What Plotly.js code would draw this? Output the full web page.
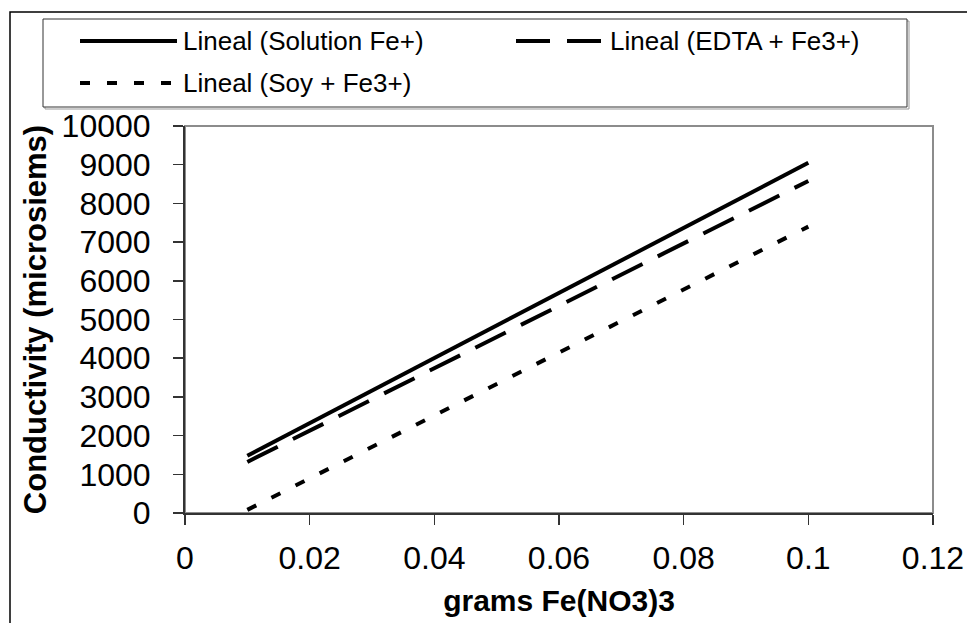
<!DOCTYPE html>
<html>
<head>
<meta charset="utf-8">
<script src="https://cdn.plot.ly/plotly-3.0.1.min.js"></script>
<style>
html,body{margin:0;padding:0;background:#fff;}
#chart{width:967px;height:623px;}
</style>
</head>
<body>
<div id="chart"></div>
<script>
// Data
const seriesNames = ["Lineal (Solution Fe+)", "Lineal (EDTA + Fe3+)", "Lineal (Soy + Fe3+)"];
const xGrams = [0.01, 0.1];
const solutionFe = [1480, 9050];
const edtaFe3 = [1320, 8580];
const soyFe3 = [80, 7400];
const xTickVals = [0, 0.02, 0.04, 0.06, 0.08, 0.1, 0.12];
const yTickVals = [0, 1000, 2000, 3000, 4000, 5000, 6000, 7000, 8000, 9000, 10000];

const FONT = "Liberation Sans, Arial, sans-serif";
const W = 967, H = 623;
const L = 185, R = 933, T = 126, B = 513;
const px = v => (v - L) / (R - L);
const py = v => (B - v) / (B - T);

const styles = [
  {color: "#000", width: 4, dash: "solid"},
  {color: "#000", width: 4, dash: "34px,17px"},
  {color: "#000", width: 4, dash: "10px,17px"}
];
const values = [solutionFe, edtaFe3, soyFe3];

const traces = values.map((v, i) => ({
  x: xGrams, y: v, type: "scatter", mode: "lines",
  name: seriesNames[i], line: styles[i], showlegend: false, hoverinfo: "skip"
}));

// custom legend (samples + labels), drawn in paper coordinates
const legendItems = [
  {x0: 80, x1: 177, y: 41, tx: 181},
  {x0: 516, x1: 604, y: 41, tx: 608},
  {x0: 80, x1: 177, y: 83, tx: 181}
];
const shapes = [
  // outer frame
  {type: "rect", xref: "paper", yref: "paper", x0: px(10), x1: px(975), y0: py(640), y1: py(12),
   line: {color: "#000", width: 1.5}, fillcolor: "rgba(0,0,0,0)", layer: "below"},
  // legend box shadow + box
  {type: "rect", xref: "paper", yref: "paper", x0: px(45), x1: px(909), y0: py(109), y1: py(21),
   line: {color: "#999", width: 1}, fillcolor: "rgba(0,0,0,0)", layer: "below"},
  {type: "rect", xref: "paper", yref: "paper", x0: px(43), x1: px(907), y0: py(107), y1: py(19),
   line: {color: "#333", width: 1}, fillcolor: "#fff", layer: "below"},
  // plot area border (gray top/right)
  {type: "rect", xref: "paper", yref: "paper", x0: 0, x1: 1, y0: 0, y1: 1,
   line: {color: "#8c8c8c", width: 2}, fillcolor: "rgba(0,0,0,0)", layer: "below"}
];
const annotations = [];
legendItems.forEach((it, i) => {
  shapes.push({type: "line", xref: "paper", yref: "paper", x0: px(it.x0), x1: px(it.x1),
    y0: py(it.y), y1: py(it.y), line: styles[i]});
  annotations.push({xref: "paper", yref: "paper", x: px(it.tx), y: py(it.y), xanchor: "left", yanchor: "middle",
    text: seriesNames[i], showarrow: false, font: {family: FONT, size: 26, color: "#000"}});
});

const layout = {
  width: W, height: H,
  margin: {l: L, r: W - R, t: T, b: H - B, pad: 0},
  paper_bgcolor: "#fff", plot_bgcolor: "#fff",
  showlegend: false,
  font: {family: FONT, color: "#000"},
  xaxis: {
    range: [0, 0.12], tickvals: xTickVals, ticks: "outside", ticklen: 10, tickwidth: 1.5, tickcolor: "#333",
    showline: true, linecolor: "#333", linewidth: 2, showgrid: false, zeroline: false,
    tickfont: {family: FONT, size: 32, color: "#000"}, ticklabelstandoff: 6,
    title: {text: "grams Fe(NO3)3", font: {family: FONT, size: 30, color: "#000", weight: "bold"}, standoff: 15}
  },
  yaxis: {
    range: [0, 10000], tickvals: yTickVals, tickformat: "d", ticks: "outside", ticklen: 10, tickwidth: 1.5, tickcolor: "#333",
    showline: true, linecolor: "#333", linewidth: 2, showgrid: false, zeroline: false,
    exponentformat: "none", separatethousands: false,
    tickfont: {family: FONT, size: 32, color: "#000"}, ticklabelstandoff: 16,
    title: {text: "Conductivity (microsiems)", font: {family: FONT, size: 31, color: "#000", weight: "bold"}, standoff: 6}
  },
  shapes: shapes,
  annotations: annotations
};

Plotly.newPlot("chart", traces, layout, {staticPlot: true, displayModeBar: false});
</script>
</body>
</html>
